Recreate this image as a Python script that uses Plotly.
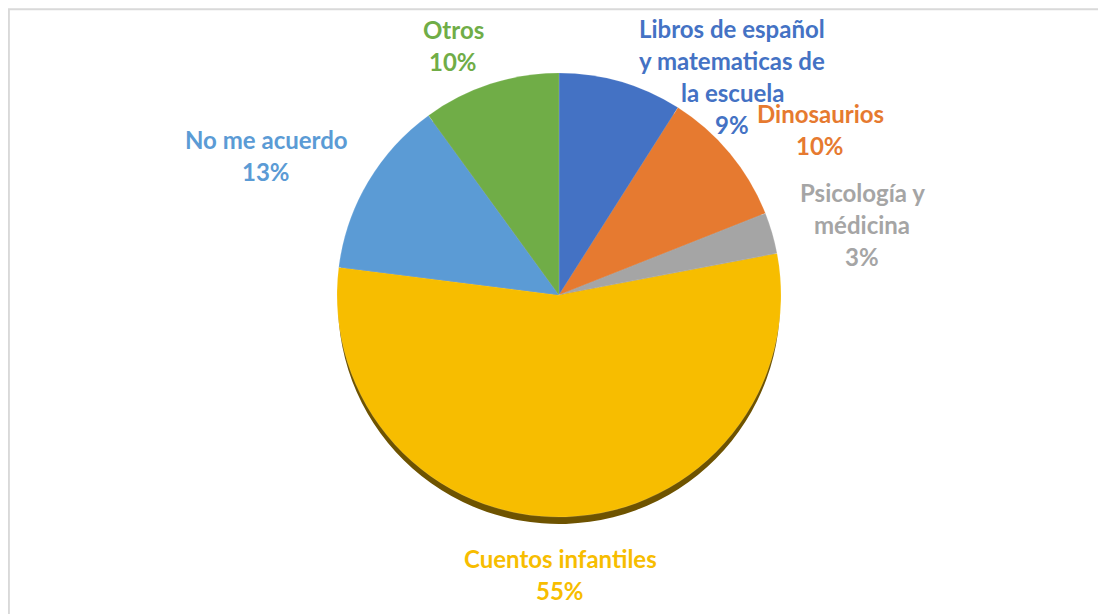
import plotly.graph_objects as go

labels = ["Libros de español<br>y matematicas de<br>la escuela", "Dinosaurios",
          "Psicología y<br>médicina", "Cuentos infantiles", "No me acuerdo", "Otros"]
values = [9, 10, 3, 55, 13, 10]
colors = ["#4472C4", "#E67A30", "#A5A5A5", "#F7BD00", "#5B9BD5", "#70AD47"]
shade_colors = ["#2c4a80", "#8a4a1c", "#6a6a6a", "#6e5300", "#3a6590", "#476e2c"]
# where each data label block sits (screen pixel centre of the text block)
label_pos = [(732, 76), (820, 129), (862, 225), (560, 574), (266, 156), (453, 45)]

# page body has an 8px margin, so the figure starts at (8, 8) on screen
OFF = 8
W, H = 1106 - OFF, 614 - OFF
cx, cy, r = 559, 295, 222


def px_x(x):
    return (x - OFF) / W


def px_y(y):
    return (H - (y - OFF)) / H


def dom(cx, cy, r):
    return dict(x=[px_x(cx - r), px_x(cx + r)], y=[px_y(cy + r), px_y(cy - r)])


fig = go.Figure()

# darker copy underneath gives the bevel / shadow at the bottom edge
fig.add_trace(go.Pie(
    labels=labels, values=values, sort=False, direction="clockwise",
    marker=dict(colors=shade_colors), textinfo="none", hoverinfo="skip",
    domain=dom(cx, cy + 8, r - 1), showlegend=False,
))
fig.add_trace(go.Pie(
    labels=labels, values=values, sort=False, direction="clockwise",
    marker=dict(colors=colors, line=dict(color="rgba(255,255,255,0.25)", width=0.5)),
    textinfo="none", domain=dom(cx, cy, r), showlegend=False,
))

line_h = 32
for lab, val, col, (px, py) in zip(labels, values, colors, label_pos):
    lines = lab.split("<br>") + [f"{val}%"]
    n = len(lines)
    for i, t in enumerate(lines):
        fig.add_annotation(
            x=px_x(px), y=px_y(py), xref="paper", yref="paper",
            xanchor="center", yanchor="middle",
            text=f"<b>{t}</b>", showarrow=False,
            yshift=-(i - (n - 1) / 2) * line_h,
            font=dict(family="Lato", size=24, color=col),
        )

fig.add_shape(type="rect", xref="paper", yref="paper",
              x0=0.0008, x1=1.02, y0=-0.02, y1=0.998,
              line=dict(color="#D9D9D9", width=2))

fig.update_layout(
    width=W, height=H, margin=dict(l=0, r=0, t=0, b=0),
    paper_bgcolor="white", plot_bgcolor="white",
)

fig.write_html("out.html")
